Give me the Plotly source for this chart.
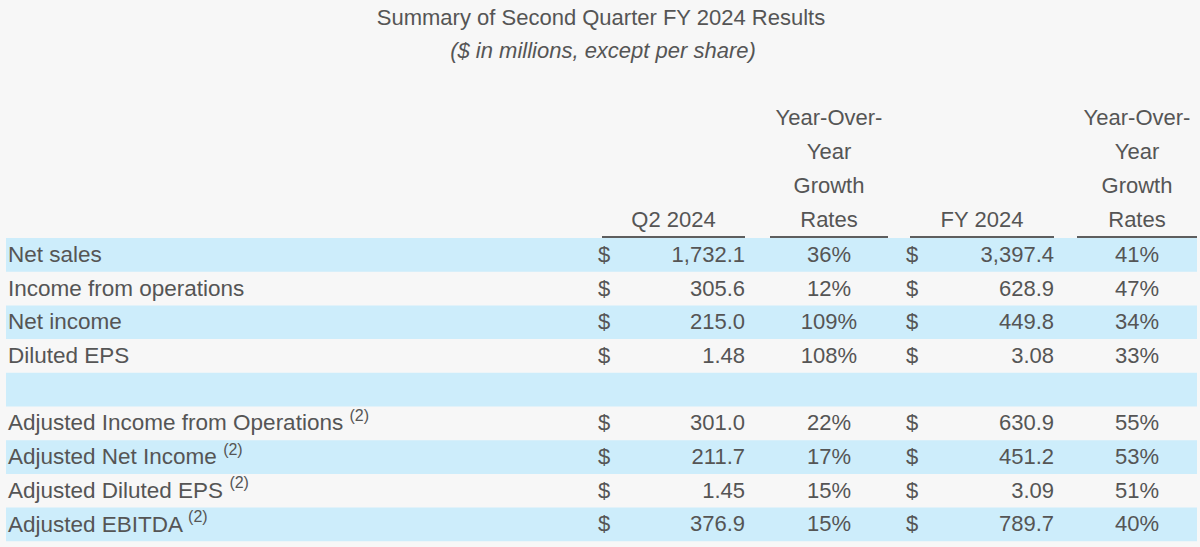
import plotly.graph_objects as go

# ---------------- data ----------------
title = "Summary of Second Quarter FY 2024 Results"
subtitle = "($ in millions, except per share)"
row_labels = ["Net sales", "Income from operations", "Net income", "Diluted EPS", "",
              "Adjusted Income from Operations", "Adjusted Net Income",
              "Adjusted Diluted EPS", "Adjusted EBITDA"]
footnotes = ["", "", "", "", "", "(2)", "(2)", "(2)", "(2)"]
q2_2024 = [1732.1, 305.6, 215.0, 1.48, None, 301.0, 211.7, 1.45, 376.9]
q2_yoy = [36, 12, 109, 108, None, 22, 17, 15, 15]
fy_2024 = [3397.4, 628.9, 449.8, 3.08, None, 630.9, 451.2, 3.09, 789.7]
fy_yoy = [41, 47, 34, 33, None, 55, 53, 51, 40]
hdr_q2 = ["Q2 2024"]
hdr_fy = ["FY 2024"]
hdr_yoy = ["Year-Over-", "Year", "Growth", "Rates"]

# ---------------- layout constants ----------------
W, H = 1200, 547
BG = "#f7f7f7"
BAND = "#cdedfb"
TXT = "#555555"
FONT = "Liberation Sans, Arial, sans-serif"
FS = 22
ROW_TOP, ROW_H = 238.0, 33.7
BAND_X0, BAND_X1 = 6, 1197
HDR_BASE, HDR_STEP = 221, 33.7
TEXT_DY = 1.5

# column geometry: (left, right)
COL_Q2 = (602, 745)
COL_Q2Y = (770, 888)
COL_FY = (910, 1054)
COL_FYY = (1077, 1197)


def fmt_val(v):
    if v is None:
        return ""
    return f"{v:,.2f}" if abs(v) < 10 else f"{v:,.1f}"


def fmt_pct(v):
    return "" if v is None else f"{v}%"


n = len(row_labels)
ycent = [ROW_TOP + (i + 0.5) * ROW_H + TEXT_DY for i in range(n)]

fig = go.Figure()

# row bands
shapes = []
for i in range(n):
    if i % 2 == 0:
        shapes.append(dict(type="rect", xref="x", yref="y", layer="below",
                           x0=BAND_X0, x1=BAND_X1, y0=ROW_TOP + i * ROW_H,
                           y1=ROW_TOP + (i + 1) * ROW_H, fillcolor=BAND, line_width=0))
# header underlines
for (a, b) in [COL_Q2, COL_Q2Y, COL_FY, COL_FYY]:
    shapes.append(dict(type="line", xref="x", yref="y", x0=a, x1=b, y0=ROW_TOP - 1,
                       y1=ROW_TOP - 1, line=dict(color="#2b2b2b", width=1.6)))

font = dict(family=FONT, size=FS, color=TXT)

# labels
lab_text = [f"{l} <sup><span style='font-size:16px'>{f}</span></sup>" if f else l
            for l, f in zip(row_labels, footnotes)]
fig.add_trace(go.Scatter(x=[8] * n, y=ycent, mode="text", text=lab_text,
                         textposition="middle right",
                         textfont=dict(family=FONT, size=22.5, color=TXT), hoverinfo="skip"))

has = [v is not None for v in q2_2024]
ys = [y for y, h in zip(ycent, has) if h]
# dollar signs
for col in (COL_Q2, COL_FY):
    fig.add_trace(go.Scatter(x=[col[0] - 4] * len(ys), y=ys, mode="text",
                             text=["$"] * len(ys), textposition="middle right",
                             textfont=font, hoverinfo="skip"))
# values
for col, vals in ((COL_Q2, q2_2024), (COL_FY, fy_2024)):
    fig.add_trace(go.Scatter(x=[col[1]] * len(ys), y=ys, mode="text",
                             text=[fmt_val(v) for v in vals if v is not None],
                             textposition="middle left", textfont=font, hoverinfo="skip"))
for col, vals in ((COL_Q2Y, q2_yoy), (COL_FYY, fy_yoy)):
    fig.add_trace(go.Scatter(x=[(col[0] + col[1]) / 2] * len(ys), y=ys, mode="text",
                             text=[fmt_pct(v) for v in vals if v is not None],
                             textposition="middle center", textfont=font, hoverinfo="skip"))

# headers
hx, hy, ht = [], [], []
for col, lines in ((COL_Q2, hdr_q2), (COL_Q2Y, hdr_yoy), (COL_FY, hdr_fy), (COL_FYY, hdr_yoy)):
    for k, line in enumerate(reversed(lines)):
        hx.append((col[0] + col[1]) / 2)
        hy.append(HDR_BASE - k * HDR_STEP)
        ht.append(line)
fig.add_trace(go.Scatter(x=hx, y=hy, mode="text", text=ht, textposition="middle center",
                         textfont=font, hoverinfo="skip"))

# title & subtitle
fig.add_trace(go.Scatter(x=[601, 603], y=[19, 52], mode="text",
                         text=[title, f"<i>{subtitle}</i>"], textposition="middle center",
                         textfont=dict(family=FONT, size=22, color=TXT), hoverinfo="skip"))

fig.update_layout(
    width=W, height=H, margin=dict(l=0, r=0, t=0, b=0),
    paper_bgcolor=BG, plot_bgcolor=BG, showlegend=False, shapes=shapes,
    xaxis=dict(range=[0, W], visible=False, fixedrange=True),
    yaxis=dict(range=[H, 0], visible=False, fixedrange=True),
)
fig.write_html("out.html", config={"displayModeBar": False},
               post_script="document.body.style.margin='0';")
